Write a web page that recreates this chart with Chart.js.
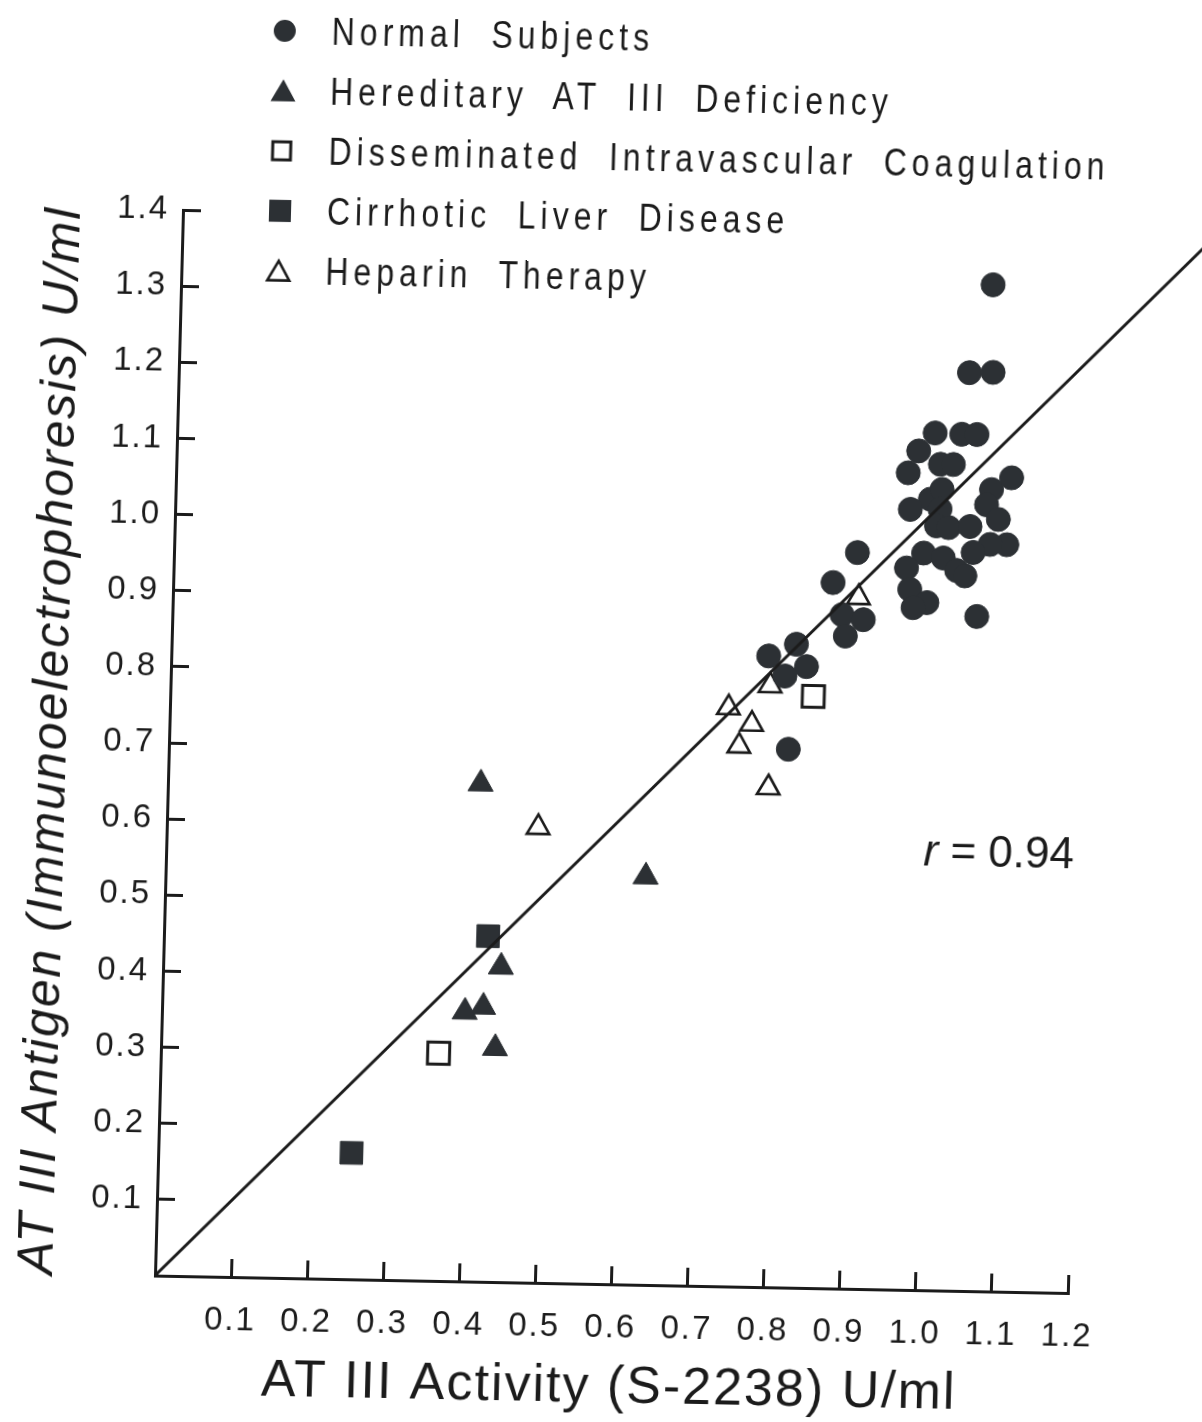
<!DOCTYPE html>
<html>
<head>
<meta charset="utf-8">
<title>AT III Antigen vs AT III Activity</title>
<script src="https://cdn.jsdelivr.net/npm/chart.js@4.4.1/dist/chart.umd.min.js"></script>
<style>
  html, body { margin: 0; padding: 0; background: #fff; width: 1202px; height: 1422px; overflow: hidden; }
  /* the plotted sheet sits with a slight clockwise tilt; the origin of the axes is the pivot */
  #sheet {
    position: absolute; left: 0; top: 0; width: 1202px; height: 1422px;
    transform-origin: 155px 1276px;
    transform: matrix(1, 0.0191, -0.0263, 1, 0, 0);
  }
  #plot { position: absolute; left: 0; top: 0; }
  #key {
    position: absolute; left: 238px; top: -1px;
    font-family: "Liberation Sans", Arial, sans-serif;
    font-size: 38px; color: #1b1b1b;
  }
  #key .row { height: 60px; display: flex; align-items: center; white-space: nowrap; }
  #key svg { width: 28px; height: 28px; flex: none; }
  /* narrow, widely spaced lettering of the key */
  #key span {
    display: inline-block; margin-left: 33px;
    letter-spacing: 6px; word-spacing: 15px;
    transform: scaleX(0.84); transform-origin: left center;
  }
  #rval {
    position: absolute; left: 912px; top: 814px;
    font-family: "Liberation Sans", Arial, sans-serif; font-size: 44px; line-height: 1;
    color: #1b1b1b; white-space: nowrap;
  }
</style>
</head>
<body>
<div id="sheet">
  <canvas id="plot" width="1202" height="1422"></canvas>
  <div id="key"></div>
  <div id="rval"><i>r</i> = 0.94</div>
</div>
<script>
// ---- values (U/ml): x = AT III activity (S-2238), y = AT III antigen ----
const normalX = [1.067, 1.039, 1.070, 0.996, 1.031, 1.051, 0.975, 1.004, 1.021, 0.962,
                 1.098, 0.992, 1.007, 1.072, 1.066, 0.966, 1.005, 1.082, 1.001, 1.017,
                 1.045, 1.094, 1.072, 1.050, 0.985, 1.011, 0.963, 1.029, 1.040, 0.968,
                 0.991, 0.973, 1.057, 0.898, 0.867, 0.880, 0.908, 0.885, 0.821, 0.785,
                 0.835, 0.807, 0.814];
const normalY = [1.322, 1.206, 1.207, 1.126, 1.125, 1.125, 1.102, 1.085, 1.085, 1.073,
                 1.069, 1.039, 1.052, 1.053, 1.033, 1.025, 1.026, 1.014, 1.004, 1.002,
                 1.004, 0.981, 0.981, 0.970, 0.968, 0.962, 0.948, 0.946, 0.939, 0.920,
                 0.903, 0.896, 0.886, 0.967, 0.927, 0.885, 0.879, 0.857, 0.845, 0.829,
                 0.816, 0.803, 0.707];

const hereditaryX = [0.411, 0.631, 0.444, 0.422, 0.398, 0.439];
const hereditaryY = [0.654, 0.536, 0.414, 0.361, 0.354, 0.307];

const dicX = [0.365, 0.845];
const dicY = [0.299, 0.777];

const cirrhosisX = [0.426, 0.254];
const cirrhosisY = [0.454, 0.166];

const heparinX = [0.901, 0.788, 0.734, 0.765, 0.749, 0.789, 0.488];
const heparinY = [0.908, 0.790, 0.760, 0.739, 0.710, 0.656, 0.598];

// regression line, drawn from the origin out past the right edge
const fitX = [0, 1.37];
const fitY = [0, 1.404];

const xTickValues = [0.1, 0.2, 0.3, 0.4, 0.5, 0.6, 0.7, 0.8, 0.9, 1.0, 1.1, 1.2];
const xTickLabels = ['0.1', '0.2', '0.3', '0.4', '0.5', '0.6', '0.7', '0.8', '0.9', '1.0', '1.1', '1.2'];
const yTickValues = [0.1, 0.2, 0.3, 0.4, 0.5, 0.6, 0.7, 0.8, 0.9, 1.0, 1.1, 1.2, 1.3, 1.4];
const yTickLabels = ['0.1', '0.2', '0.3', '0.4', '0.5', '0.6', '0.7', '0.8', '0.9', '1.0', '1.1', '1.2', '1.3', '1.4'];

const groupNames = ['Normal Subjects', 'Hereditary AT III Deficiency',
  'Disseminated Intravascular Coagulation', 'Cirrhotic Liver Disease', 'Heparin Therapy'];

// ---- styling ----
const INK = '#1b1b1b';
const FILL = '#2c3034';
const tickFont = { family: '"Liberation Sans", Arial, sans-serif', size: 33 };

const pts = (xs, ys) => xs.map((x, i) => ({ x, y: ys[i] }));

const datasets = [
  { label: groupNames[0], data: pts(normalX, normalY), pointStyle: 'circle', pointRadius: 12,
    backgroundColor: FILL, borderColor: FILL, borderWidth: 1, order: 2 },
  { label: groupNames[1], data: pts(hereditaryX, hereditaryY), pointStyle: 'triangle', pointRadius: 14.5,
    backgroundColor: FILL, borderColor: FILL, borderWidth: 1, order: 2 },
  { label: groupNames[2], data: pts(dicX, dicY), pointStyle: 'rect', pointRadius: 15.5,
    backgroundColor: '#fff', borderColor: INK, borderWidth: 3, order: 2 },
  { label: groupNames[3], data: pts(cirrhosisX, cirrhosisY), pointStyle: 'rect', pointRadius: 16,
    backgroundColor: FILL, borderColor: FILL, borderWidth: 1, order: 2 },
  { label: groupNames[4], data: pts(heparinX, heparinY), pointStyle: 'triangle', pointRadius: 13,
    backgroundColor: '#fff', borderColor: INK, borderWidth: 2.6, order: 2 },
  { type: 'line', label: 'regression', data: pts(fitX, fitY), borderColor: INK, borderWidth: 3,
    pointRadius: 0, fill: false, clip: false, order: 0 }
];

// wider letter spacing for the lettering drawn on the canvas
const letterSpacingPlugin = {
  id: 'letterSpacing',
  beforeDraw(chart) { chart.ctx.letterSpacing = '2px'; }
};

new Chart(document.getElementById('plot'), {
  type: 'scatter',
  data: { datasets },
  plugins: [letterSpacingPlugin],
  options: {
    responsive: false,
    animation: false,
    events: [],
    layout: { padding: { top: 210, right: 134, left: 0, bottom: 0 } },
    plugins: { legend: { display: false }, tooltip: { enabled: false } },
    scales: {
      x: {
        type: 'linear', min: 0, max: 1.2,
        afterBuildTicks: s => { s.ticks = xTickValues.map(v => ({ value: v })); },
        afterFit: s => { s.height = 146; },
        ticks: { callback: (v, i) => xTickLabels[i], font: tickFont, color: INK,
                 padding: 42, maxRotation: 0, minRotation: 0, autoSkip: false },
        grid: { drawOnChartArea: false, drawTicks: true, tickLength: -18, tickWidth: 3, tickColor: INK },
        border: { display: true, color: INK, width: 3 },
        title: { display: true, text: 'AT III Activity (S-2238) U/ml', color: INK,
                 font: { family: '"Liberation Sans", Arial, sans-serif', size: 52 },
                 padding: { top: 0, bottom: 11 } }
      },
      y: {
        type: 'linear', min: 0, max: 1.4,
        afterBuildTicks: s => { s.ticks = yTickValues.map(v => ({ value: v })); },
        afterFit: s => { s.width = 155; },
        ticks: { callback: (v, i) => yTickLabels[i], font: tickFont, color: INK,
                 padding: 32, autoSkip: false },
        grid: { drawOnChartArea: false, drawTicks: true, tickLength: -18, tickWidth: 3, tickColor: INK },
        border: { display: true, color: INK, width: 3 },
        title: { display: true, text: 'AT III Antigen (Immunoelectrophoresis) U/ml', color: INK,
                 font: { family: '"Liberation Sans", Arial, sans-serif', size: 50, style: 'italic' },
                 padding: { top: 8, bottom: 0 } }
      }
    }
  }
});

// ---- key: marker + group name per row ----
const markerSvg = [
  '<circle cx="14" cy="14" r="11" fill="' + FILL + '"/>',
  '<polygon points="14,2.5 26.5,24.5 1.5,24.5" fill="' + FILL + '"/>',
  '<rect x="5" y="5" width="18" height="18" fill="#fff" stroke="' + INK + '" stroke-width="3"/>',
  '<rect x="3" y="3" width="22" height="22" fill="' + FILL + '"/>',
  '<polygon points="14,4 25,23.5 3,23.5" fill="#fff" stroke="' + INK + '" stroke-width="2.6"/>'
];
const key = document.getElementById('key');
groupNames.forEach((name, i) => {
  const row = document.createElement('div');
  row.className = 'row';
  row.innerHTML = '<svg viewBox="0 0 28 28">' + markerSvg[i] + '</svg><span>' + name + '</span>';
  key.appendChild(row);
});
</script>
</body>
</html>
